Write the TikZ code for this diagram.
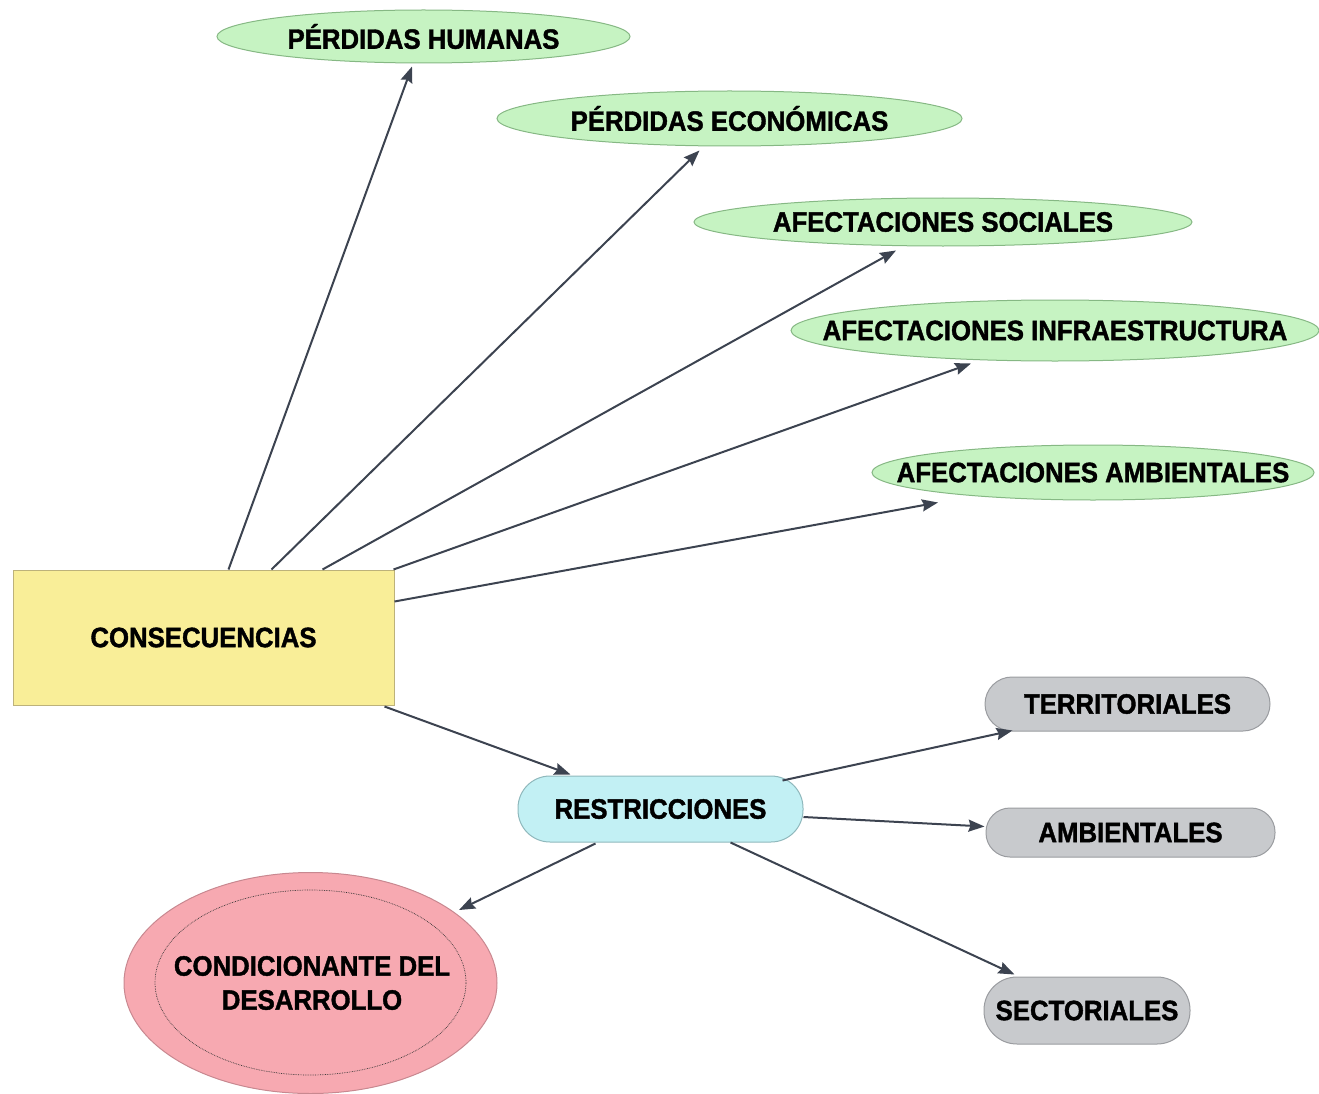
\documentclass[tikz,border=0pt]{standalone}
\usepackage{fontspec}
\setmainfont{Liberation Sans}[FakeStretch=0.92, BoldFeatures={FakeBold=1.4}]
\usetikzlibrary{shapes.geometric,arrows.meta,calc}
\definecolor{gfill}{HTML}{C6F3C2}
\definecolor{gdraw}{HTML}{86B884}
\definecolor{yfill}{HTML}{F9EE98}
\definecolor{ydraw}{HTML}{BDB27A}
\definecolor{cfill}{HTML}{C2F0F4}
\definecolor{cdraw}{HTML}{8FB8BC}
\definecolor{grfill}{HTML}{C8CACD}
\definecolor{grdraw}{HTML}{9A9CA0}
\definecolor{pfill}{HTML}{F7A9B1}
\definecolor{pdraw}{HTML}{C88890}
\definecolor{arrc}{HTML}{3C4350}
\tikzset{
  lbl/.style={font=\fontsize{28}{34}\selectfont\bfseries, text=black, inner sep=0pt},
  gell/.style={lbl, ellipse, inner xsep=-120pt, inner ysep=-20pt, fill=gfill, draw=gdraw, line width=1pt},
  consbox/.style={lbl, rectangle, fill=yfill, draw=ydraw, line width=1pt},
  resbox/.style={lbl, rectangle, rounded corners=32pt, fill=cfill, draw=cdraw, line width=1pt},
  graybox/.style={lbl, rectangle, fill=grfill, draw=grdraw, line width=1pt},
  condell/.style={lbl, ellipse, fill=pfill, draw=pdraw, line width=1pt, align=center},
  arr/.style={draw=arrc, line width=2pt, -{Stealth[length=16pt,width=12pt,inset=2pt]}}
}
\begin{document}
\begin{tikzpicture}[x=1pt,y=-1pt]
\useasboundingbox (0,0) rectangle (1319,1094);
% green ellipses
\node[gell, minimum width=413pt, minimum height=53pt] (ph) at (423.5,36.5) {PÉRDIDAS HUMANAS};
\node[gell, minimum width=465pt, minimum height=55pt] (pe) at (729.5,118.5) {PÉRDIDAS ECONÓMICAS};
\node[gell, minimum width=498pt, minimum height=48pt] (as) at (943,222) {AFECTACIONES SOCIALES};
\node[gell, minimum width=528pt, minimum height=61pt] (ai) at (1055,330.5) {AFECTACIONES INFRAESTRUCTURA};
\node[gell, minimum width=442pt, minimum height=55pt] (aa) at (1093,472.5) {AFECTACIONES AMBIENTALES};
% main box
\node[consbox, minimum width=381pt, minimum height=135pt] (cons) at (203.5,637.5) {CONSECUENCIAS};
% restricciones
\node[resbox, minimum width=285pt, minimum height=66pt] (res) at (660.5,809) {RESTRICCIONES};
% gray
\node[graybox, rounded corners=27pt, minimum width=285pt, minimum height=54pt] (ter) at (1127.5,704) {TERRITORIALES};
\node[graybox, rounded corners=24pt, minimum width=289pt, minimum height=49pt] (amb) at (1130.5,832.5) {AMBIENTALES};
\node[graybox, rounded corners=33pt, minimum width=206pt, minimum height=67pt] (sec) at (1087,1010.5) {SECTORIALES};
% condicionante
\node[condell, minimum width=373pt, minimum height=221pt] (cond) at (310.5,983) {};
\node[ellipse, draw=black!80, densely dotted, line width=0.7pt, minimum width=311pt, minimum height=185pt, inner sep=0pt] (condin) at (310.5,982.5) {};
\node[lbl, align=center] (condtxt) at (312,983) {CONDICIONANTE DEL\\DESARROLLO};
% arrows
\draw[arr] ($(cons.north west)+(216,0)$) -- ($(ph.south)+(-11.5,3)$);
\draw[arr] ($(cons.north west)+(259,0)$) -- ($(pe.south)+(-30,4)$);
\draw[arr] ($(cons.north west)+(310,0)$) -- ($(as.south)+(-47,4)$);
\draw[arr] ($(cons.north east)+(-1,0)$) -- ($(ai.south)+(-84,2)$);
\draw[arr] ($(cons.north east)+(0,32)$) -- ($(aa.south)+(-155,2)$);
\draw[arr] ($(cons.south east)+(-10,1)$) -- ($(res.north)+(-90,-1)$);
\draw[arr] ($(res.north east)+(-21,5)$) -- ($(ter.south west)+(28,-1)$);
\draw[arr] ($(res.east)+(0,8)$) -- ($(amb.west)+(-1,-6)$);
\draw[arr] ($(res.south)+(70,0)$) -- ($(sec.north west)+(31,-2)$);
\draw[arr] ($(res.south)+(-65,1)$) -- ($(cond.north)+(148.5,38)$);
\end{tikzpicture}
\end{document}
